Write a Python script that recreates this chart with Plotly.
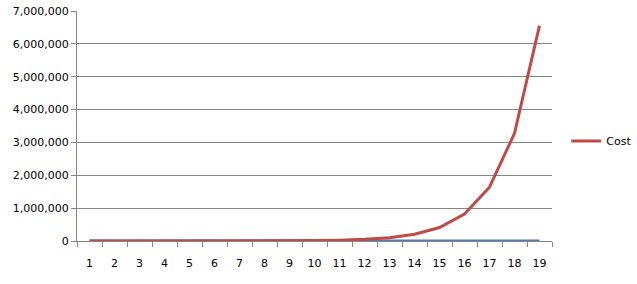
import plotly.graph_objects as go

periods = list(range(1, 20))
cost = [25, 50, 100, 200, 400, 800, 1600, 3200, 6400, 12800, 25600, 51200,
        102400, 204800, 409600, 819200, 1638400, 3276800, 6553600]
index_series = [1, 2, 3, 4, 5, 6, 7, 8, 9, 10, 11, 12, 13, 14, 15, 16, 17, 18, 19]
y_ticks = [0, 1000000, 2000000, 3000000, 4000000, 5000000, 6000000, 7000000]
y_labels = ["0", "1,000,000", "2,000,000", "3,000,000", "4,000,000",
            "5,000,000", "6,000,000", "7,000,000"]

fig = go.Figure()
fig.add_trace(go.Scatter(x=periods, y=index_series, mode="lines", name="Period",
                         line=dict(color="#4A7EBB", width=3), showlegend=False))
fig.add_trace(go.Scatter(x=periods, y=cost, mode="lines", name="Cost",
                         line=dict(color="#BE4B48", width=3)))

font = dict(family="DejaVu Sans", size=11, color="#000000")
fig.update_layout(
    width=637, height=284,
    margin=dict(l=77, r=85, t=11, b=43, autoexpand=False),
    paper_bgcolor="white", plot_bgcolor="white",
    font=font,
    legend=dict(x=1.03, y=0.435, xanchor="left", yanchor="middle",
                font=dict(family="DejaVu Sans", size=11), itemwidth=30,
                tracegroupgap=0),
    xaxis=dict(range=[0.5, 19.5], tickvals=periods, ticktext=[str(p) for p in periods],
               showgrid=False, zeroline=False, showline=True, linecolor="#868686",
               linewidth=1, ticks="", ticklabelstandoff=12,
               minor=dict(tick0=0.5, dtick=1, ticks="outside", ticklen=5,
                          tickcolor="#868686", showgrid=False)),
    yaxis=dict(range=[0, 7000000], tickvals=y_ticks, ticktext=y_labels,
               showgrid=True, gridcolor="#868686", gridwidth=1, zeroline=False,
               showline=True, linecolor="#868686", linewidth=1,
               ticks="outside", ticklen=5, tickcolor="#868686"),
)
fig.write_html("out.html")
